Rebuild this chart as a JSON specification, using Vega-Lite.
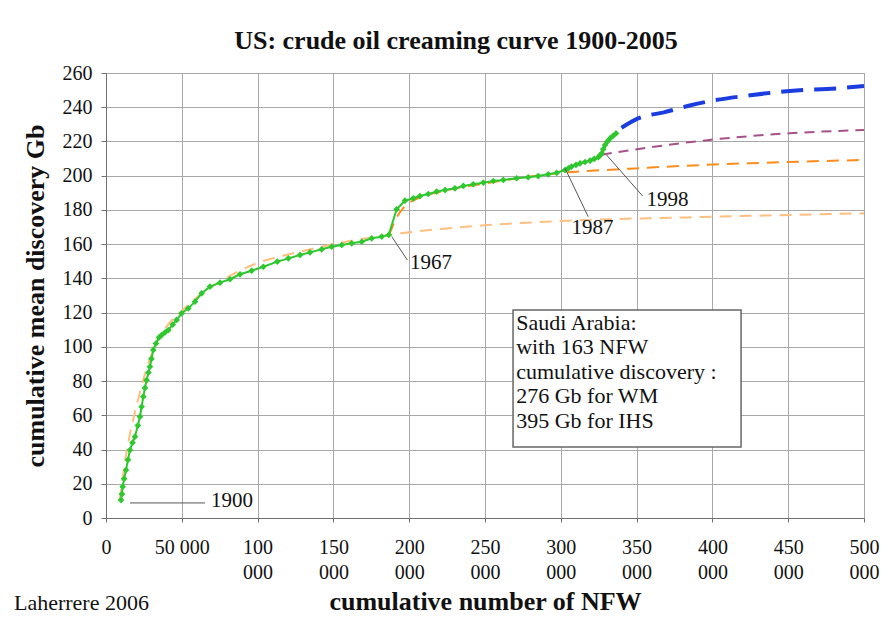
{
  "$schema": "https://vega.github.io/schema/vega-lite/v6.json",
  "width": 758,
  "height": 445,
  "autosize": {"type": "none"},
  "padding": {"left": 106, "top": 73, "right": 31, "bottom": 101},
  "background": "white",
  "config": {
    "font": "Liberation Serif",
    "view": {"stroke": "#8c8c8c", "strokeWidth": 1},
    "axis": {
      "labelFont": "Liberation Serif",
      "titleFont": "Liberation Serif",
      "labelColor": "#111",
      "titleColor": "#111",
      "labelFontSize": 20,
      "titleFontSize": 26,
      "titleFontWeight": "bold",
      "gridColor": "#a8a8a8",
      "gridWidth": 1,
      "domainColor": "#707070",
      "tickColor": "#707070"
    }
  },
  "title": {
    "text": "US: crude oil creaming curve 1900-2005",
    "font": "Liberation Serif",
    "fontSize": 26,
    "fontWeight": "bold",
    "color": "#111",
    "dx": -29,
    "offset": 9
  },
  "datasets": {
    "green": [
      {"x": 9900, "y": 10.5}, {"x": 10500, "y": 14}, {"x": 11000, "y": 18.3}, {"x": 12000, "y": 23},
      {"x": 13200, "y": 28}, {"x": 14500, "y": 34}, {"x": 15800, "y": 39.7}, {"x": 17500, "y": 44},
      {"x": 19100, "y": 47.5}, {"x": 21000, "y": 54}, {"x": 22400, "y": 59.2}, {"x": 23500, "y": 65},
      {"x": 24600, "y": 70.9}, {"x": 25700, "y": 76}, {"x": 26800, "y": 80.6}, {"x": 28000, "y": 85},
      {"x": 29000, "y": 88.4}, {"x": 30000, "y": 93}, {"x": 31200, "y": 98.2}, {"x": 33000, "y": 102},
      {"x": 35000, "y": 105.5}, {"x": 36700, "y": 106.9}, {"x": 39000, "y": 108.5}, {"x": 41100, "y": 109.8},
      {"x": 44000, "y": 113}, {"x": 46600, "y": 115.7}, {"x": 49900, "y": 119.6}, {"x": 54300, "y": 122.5},
      {"x": 58700, "y": 126.4}, {"x": 63100, "y": 131.3}, {"x": 68600, "y": 135.2}, {"x": 75200, "y": 137.5},
      {"x": 81800, "y": 139.5}, {"x": 88400, "y": 142.4}, {"x": 96100, "y": 144.5}, {"x": 103800, "y": 146.8},
      {"x": 113000, "y": 149.8}, {"x": 120300, "y": 151.7}, {"x": 128000, "y": 153.7}, {"x": 134600, "y": 155.2},
      {"x": 142300, "y": 157}, {"x": 148900, "y": 158.5}, {"x": 155500, "y": 159.5}, {"x": 162100, "y": 160.5},
      {"x": 168700, "y": 161.4}, {"x": 175300, "y": 163.4}, {"x": 181900, "y": 164.4}, {"x": 186500, "y": 165.4},
      {"x": 191700, "y": 180.4}, {"x": 197200, "y": 185.4}, {"x": 202700, "y": 186.8}, {"x": 207100, "y": 188.1},
      {"x": 212600, "y": 189.3}, {"x": 218100, "y": 190.7}, {"x": 223600, "y": 191.6}, {"x": 230200, "y": 192.6},
      {"x": 235700, "y": 194}, {"x": 242300, "y": 195}, {"x": 248900, "y": 195.9}, {"x": 255500, "y": 196.9},
      {"x": 262100, "y": 197.5}, {"x": 270800, "y": 198.5}, {"x": 278500, "y": 199.1}, {"x": 285100, "y": 199.8},
      {"x": 291700, "y": 200.8}, {"x": 297300, "y": 201.7}, {"x": 302800, "y": 203.3}, {"x": 305000, "y": 204.3},
      {"x": 307100, "y": 205.3}, {"x": 310000, "y": 206.3}, {"x": 312700, "y": 207.2}, {"x": 316000, "y": 208},
      {"x": 319300, "y": 208.8}, {"x": 322000, "y": 209.8}, {"x": 324700, "y": 210.8}, {"x": 326000, "y": 212},
      {"x": 327000, "y": 213.1}, {"x": 328000, "y": 215.5}, {"x": 329200, "y": 217.9}, {"x": 330800, "y": 220},
      {"x": 332500, "y": 221.8}, {"x": 334500, "y": 223.3}, {"x": 336400, "y": 224.7}
    ],
    "fit1": [
      {"x": 9000, "y": 10}, {"x": 12000, "y": 30}, {"x": 16000, "y": 50}, {"x": 20000, "y": 65},
      {"x": 26000, "y": 85}, {"x": 32000, "y": 100}, {"x": 40000, "y": 112}, {"x": 50000, "y": 121},
      {"x": 60000, "y": 129}, {"x": 75000, "y": 138}, {"x": 100000, "y": 149}, {"x": 125000, "y": 155},
      {"x": 150000, "y": 160}, {"x": 186500, "y": 165.4}, {"x": 250000, "y": 171}, {"x": 300000, "y": 173.5},
      {"x": 400000, "y": 176}, {"x": 500000, "y": 178}
    ],
    "fit2": [
      {"x": 186800, "y": 165.4}, {"x": 192000, "y": 176}, {"x": 197000, "y": 182}, {"x": 205000, "y": 186.5},
      {"x": 220000, "y": 190.5}, {"x": 250000, "y": 195.5}, {"x": 280000, "y": 199.5}, {"x": 302000, "y": 201.8},
      {"x": 340000, "y": 203.8}, {"x": 380000, "y": 205.7}, {"x": 425000, "y": 207.3}, {"x": 500000, "y": 209.2}
    ],
    "fit3": [
      {"x": 327000, "y": 212.3}, {"x": 359000, "y": 216.6}, {"x": 398000, "y": 220.9}, {"x": 451000, "y": 224.8},
      {"x": 500000, "y": 226.7}
    ],
    "fit4": [
      {"x": 340000, "y": 228}, {"x": 351000, "y": 233.5}, {"x": 368000, "y": 237}, {"x": 385000, "y": 241},
      {"x": 398000, "y": 243.5}, {"x": 425000, "y": 247}, {"x": 451000, "y": 249.5}, {"x": 482000, "y": 251},
      {"x": 500000, "y": 252.4}
    ],
    "leaders": [
      {"x": 15800, "y": 8.8, "x2": 65300, "y2": 8.8},
      {"x": 188500, "y": 164.4, "x2": 198800, "y2": 150.7},
      {"x": 302800, "y": 204.3, "x2": 318100, "y2": 176},
      {"x": 330200, "y": 212.1, "x2": 354000, "y2": 188.1}
    ],
    "years": [
      {"x": 69300, "y": 9.9, "label": "1900"},
      {"x": 200500, "y": 149, "label": "1967"},
      {"x": 307100, "y": 169.3, "label": "1987"},
      {"x": 356600, "y": 185.8, "label": "1998"}
    ],
    "box": [
      {"x": 268500, "x2": 418900, "y": 41.5, "y2": 121.5}
    ],
    "boxtext": [
      {"x": 270600, "y": 120, "label": ["Saudi Arabia:", "with 163 NFW", "cumulative discovery :", "276 Gb for WM", "395 Gb for IHS"]}
    ],
    "credit": [
      {"x": -60700, "y": -49.7, "label": "Laherrere 2006"}
    ]
  },
  "encoding": {
    "x": {
      "field": "x",
      "type": "quantitative",
      "scale": {"domain": [0, 500000], "nice": false, "zero": false},
      "axis": {
        "title": "cumulative number of NFW",
        "values": [0, 50000, 100000, 150000, 200000, 250000, 300000, 350000, 400000, 450000, 500000],
        "labelExpr": "datum.value == 0 ? '0' : datum.value == 50000 ? '50 000' : [format(datum.value / 1000, 'd'), '000']",
        "labelBaseline": "top",
        "labelLineHeight": 25,
        "labelPadding": 15,
        "labelFlush": false,
        "labelOverlap": false,
        "labelBound": false,
        "tickSize": 4,
        "titlePadding": 6
      }
    },
    "y": {
      "field": "y",
      "type": "quantitative",
      "scale": {"domain": [0, 260], "nice": false, "zero": false},
      "axis": {
        "title": "cumulative mean discovery Gb",
        "values": [0, 20, 40, 60, 80, 100, 120, 140, 160, 180, 200, 220, 240, 260],
        "tickSize": 5,
        "labelPadding": 9,
        "titlePadding": 14
      }
    }
  },
  "layer": [
    {
      "data": {"name": "fit1"},
      "mark": {"type": "line", "color": "#ffbf80", "strokeWidth": 2, "strokeDash": [12, 8], "interpolate": "monotone"}
    },
    {
      "data": {"name": "fit2"},
      "mark": {"type": "line", "color": "#ff8c1a", "strokeWidth": 2, "strokeDash": [12, 8], "interpolate": "monotone"}
    },
    {
      "data": {"name": "fit3"},
      "mark": {"type": "line", "color": "#a8508a", "strokeWidth": 2, "strokeDash": [10, 7], "interpolate": "monotone"}
    },
    {
      "data": {"name": "fit4"},
      "mark": {"type": "line", "color": "#1a3ce0", "strokeWidth": 4, "strokeDash": [22, 11], "interpolate": "monotone"}
    },
    {
      "data": {"name": "green"},
      "mark": {"type": "line", "color": "#2ec82e", "strokeWidth": 2}
    },
    {
      "data": {"name": "green"},
      "mark": {"type": "point", "shape": "diamond", "filled": true, "color": "#2ec82e", "size": 45, "opacity": 1}
    },
    {
      "data": {"name": "leaders"},
      "mark": {"type": "rule", "color": "#555555", "strokeWidth": 1},
      "encoding": {"x2": {"field": "x2"}, "y2": {"field": "y2"}}
    },
    {
      "data": {"name": "years"},
      "mark": {"type": "text", "align": "left", "baseline": "middle", "fontSize": 21, "color": "#111"},
      "encoding": {"text": {"field": "label"}}
    },
    {
      "data": {"name": "box"},
      "mark": {"type": "rect", "fill": "white", "stroke": "#666666", "strokeWidth": 1.5},
      "encoding": {"x2": {"field": "x2"}, "y2": {"field": "y2"}}
    },
    {
      "data": {"name": "boxtext"},
      "mark": {"type": "text", "align": "left", "baseline": "top", "fontSize": 22, "lineHeight": 24.5, "color": "#111"},
      "encoding": {"text": {"field": "label"}}
    },
    {
      "data": {"name": "credit"},
      "mark": {"type": "text", "align": "left", "baseline": "middle", "fontSize": 22, "color": "#111"},
      "encoding": {"text": {"field": "label"}}
    }
  ]
}
